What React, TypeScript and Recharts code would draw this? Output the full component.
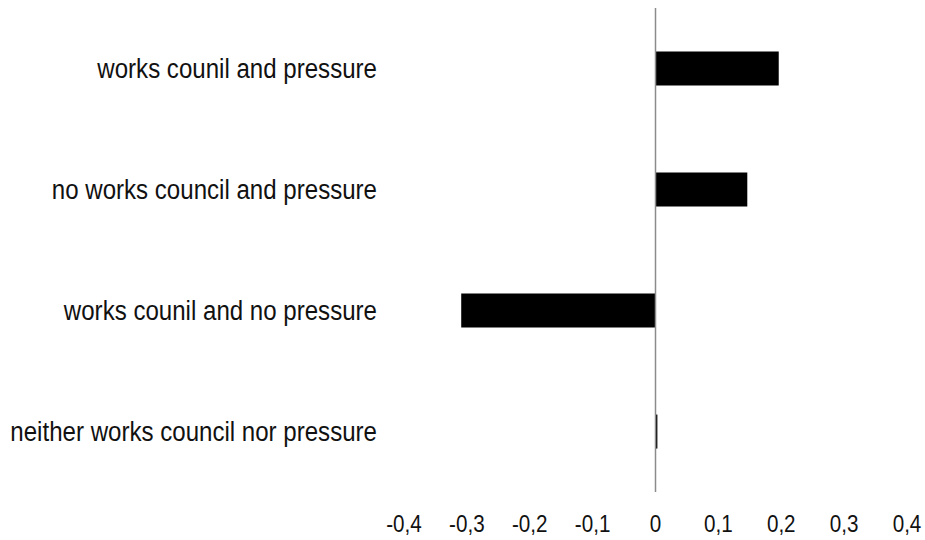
import { Bar, BarChart, XAxis, YAxis, ReferenceLine } from "recharts"

const categories = [
  "works counil and pressure",
  "no works council and pressure",
  "works counil and no pressure",
  "neither works council nor pressure",
]

const values = [0.196, 0.146, -0.309, 0.003]

const xTicks = [-0.4, -0.3, -0.2, -0.1, 0, 0.1, 0.2, 0.3, 0.4]

const data = categories.map((name, i) => ({ name, value: values[i] }))

// no Arial Narrow here, so squeeze Liberation Sans horizontally
const font = "'Liberation Sans', Arial, sans-serif"

const fmt = (v: number) => (Math.abs(v) < 1e-9 ? "0" : v.toFixed(1).replace(".", ","))

const CategoryTick = (props: any) => {
  const { x, y, payload } = props
  return (
    <g transform={`translate(${x},${y})`}>
      <text transform="scale(0.86,1)" textAnchor="end" dy="0.34em" fill="#111" fontSize={28} fontFamily={font}>
        {payload.value}
      </text>
    </g>
  )
}

const ValueTick = (props: any) => {
  const { x, y, payload } = props
  return (
    <g transform={`translate(${x},${y})`}>
      <text transform="scale(0.86,1)" textAnchor="middle" dy={40} fill="#111" fontSize={24} fontFamily={font}>
        {fmt(payload.value)}
      </text>
    </g>
  )
}

export default function App() {
  return (
    <div style={{ position: "absolute", left: 0, top: 0, width: 925, height: 540, background: "#fff" }}>
      <BarChart
        width={925}
        height={540}
        data={data}
        layout="vertical"
        margin={{ top: 8, right: 18, bottom: 8, left: 0 }}
        barCategoryGap="36%"
      >
        <XAxis
          type="number"
          domain={[-0.4, 0.4]}
          ticks={xTicks}
          axisLine={false}
          tickLine={false}
          tickSize={0}
          tickMargin={0}
          height={40}
          interval={0}
          tick={<ValueTick />}
        />
        <YAxis
          type="category"
          dataKey="name"
          width={404}
          axisLine={false}
          tickLine={false}
          tickSize={0}
          tickMargin={27}
          tick={<CategoryTick />}
        />
        <Bar dataKey="value" fill="#000" isAnimationActive={false} />
        <ReferenceLine x={0} stroke="#8c8c8c" strokeWidth={1.5} />
      </BarChart>
    </div>
  )
}
